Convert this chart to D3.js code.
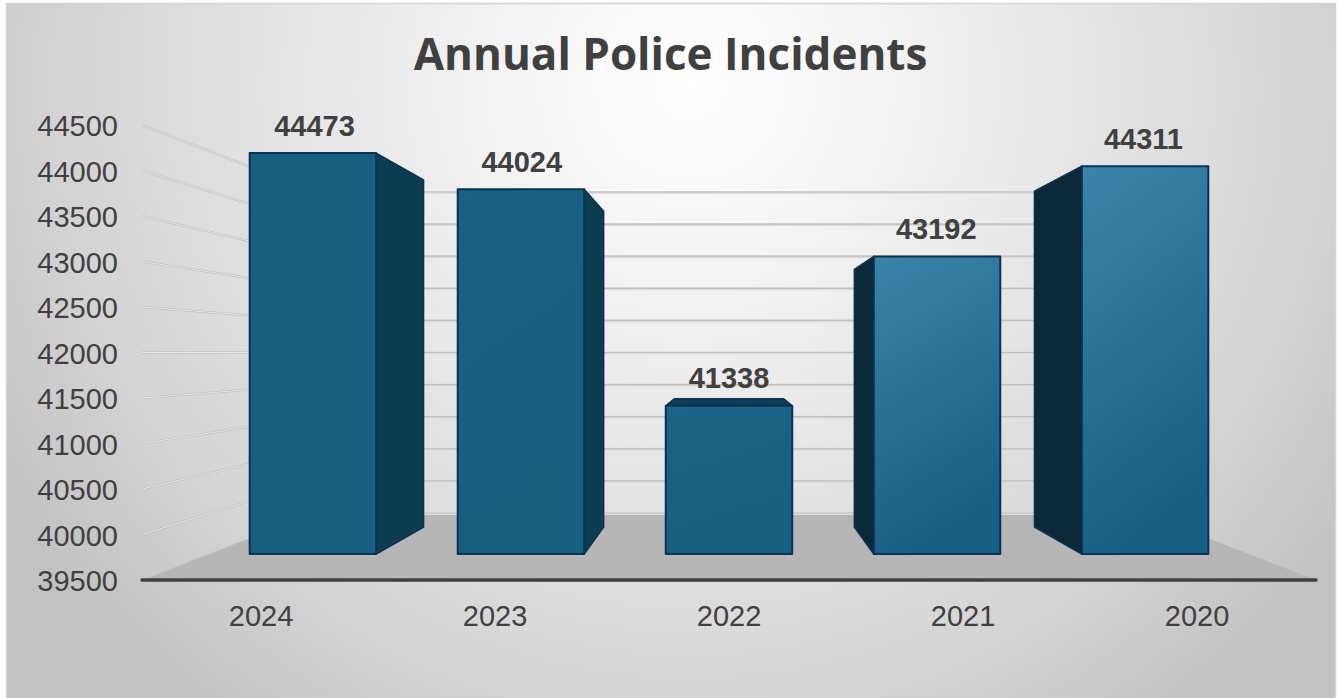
<!DOCTYPE html>
<html><head><meta charset="utf-8">
<script src="https://cdn.jsdelivr.net/npm/d3@7"></script>
<style>html,body{margin:0;padding:0;background:#fff}svg{display:block}</style>
</head><body><svg id="c" width="1341" height="698"></svg>
<script>
const years = ["2024","2023","2022","2021","2020"];
const incidents = [44473,44024,41338,43192,44311];
const yTicks = [39500,40000,40500,41000,41500,42000,42500,43000,43500,44000,44500];
const titleText = "Annual Police Incidents";

const svg = d3.select("#c");
const vp = {x:729,y:352.5};
const S = {barFront:.886,barBack:.767,wall:.7055,label:.8825};
const x = d3.scaleBand().domain(years).range([142,1316]).paddingInner(.392).paddingOuter(.196);
const xLabels = d3.scaleBand().domain(years).range([144,1314]);
const y = d3.scaleLinear().domain([39500,44500]).range([580,125]);
const proj = (px,py,s)=>[vp.x+(px-vp.x)*s, vp.y+(py-vp.y)*s];
const poly = pts=>"M"+pts.map(p=>p.join(",")).join("L")+"Z";

const defs = svg.append("defs");
const bg = defs.append("radialGradient").attr("id","bg").attr("gradientUnits","userSpaceOnUse")
  .attr("cx",690).attr("cy",85).attr("r",800);
[[0,"#ffffff"],[.15,"#f8f8f8"],[.45,"#e8e8e8"],[.8,"#d3d3d3"],[1,"#c2c2c2"]].forEach(d=>bg.append("stop").attr("offset",d[0]).attr("stop-color",d[1]));
const frontStops = [
 ["#155f81","#155f81"],["#176285","#155f81"],["#1a6486","#155f81"],
 ["#3a83a8","#165f82"],["#3b84a9","#155f82"]];
frontStops.forEach((c,i)=>{
  const g = defs.append("linearGradient").attr("id","f"+i).attr("x1",.1).attr("y1",0).attr("x2",.35).attr("y2",1);
  g.append("stop").attr("offset",0).attr("stop-color",c[0]);
  g.append("stop").attr("offset",1).attr("stop-color",c[1]);
});

svg.append("rect").attr("x",6.5).attr("y",3.5).attr("width",1329).attr("height",700)
  .attr("fill","url(#bg)").attr("stroke","#d4d4d4").attr("stroke-width",1.5);

// floor
const [x0,x1] = x.range(), y0 = y.range()[0];
svg.append("path").attr("d",poly([[x0,y0],[x1,y0],proj(x1,y0,S.wall),proj(x0,y0,S.wall)])).attr("fill","#b6b6b6");

// side wall + back wall grid lines
const grid = svg.append("g");
yTicks.forEach(t=>{
  const a=[x0,y(t)], b=proj(x0,y(t),S.wall), c=proj(x1,y(t),S.wall);
  const base = t===39500;
  grid.append("path").attr("d",`M${a}L${b}`).attr("fill","none").attr("stroke",base?"#c4c4c4":"#bcbcbc").attr("stroke-width",base?1:2.2);
  if(!base) grid.append("path").attr("d",`M${a}L${b}`).attr("fill","none").attr("stroke","#ececec").attr("stroke-width",.9);
  grid.append("path").attr("d",`M${b}L${c}`).attr("fill","none").attr("stroke","#dcdcdc").attr("stroke-width",3).attr("transform","translate(0,.5)");
  grid.append("path").attr("d",`M${b}L${c}`).attr("fill","none").attr("stroke","#bfbfbf").attr("stroke-width",1.2);
});

// bars
const bars = svg.append("g");
years.forEach((yr,i)=>{
  const l=x(yr), r=l+x.bandwidth(), t=y(incidents[i]);
  const F=s=>[proj(l,t,s),proj(r,t,s),proj(r,y0,s),proj(l,y0,s)];
  const f=F(S.barFront), k=F(S.barBack);
  const g=bars.append("g").attr("stroke","#0f3052").attr("stroke-width",1.5).attr("stroke-linejoin","round");
  if(f[0][1]>vp.y) g.append("path").attr("d",poly([f[0],f[1],k[1],k[0]])).attr("fill","#0e3c54");
  if(f[1][0]<vp.x) g.append("path").attr("d",poly([f[1],k[1],k[2],f[2]])).attr("fill","#0b3c50");
  if(f[0][0]>vp.x) g.append("path").attr("d",poly([f[0],k[0],k[3],f[3]])).attr("fill","#0a2838");
  g.append("path").attr("d",poly(f)).attr("fill",`url(#f${i})`).attr("stroke-width",2);
  svg.append("text").attr("x",proj(l+x.bandwidth()/2,t,S.label)[0]).attr("y",f[0][1]-17.5).attr("text-anchor","middle")
    .attr("font-family","Liberation Sans").attr("font-weight",700).attr("font-size",29).attr("fill","#404040").text(incidents[i]);
});

// axes
const yAxis = svg.append("g").attr("transform",`translate(${x0},0)`)
  .call(d3.axisLeft(y).tickValues(yTicks).tickFormat(d3.format("d")).tickSize(0).tickPadding(24));
yAxis.select(".domain").remove();
yAxis.selectAll("text").attr("dy","0.37em");
const xAxis = svg.append("g").attr("transform",`translate(0,${y0})`)
  .call(d3.axisBottom(xLabels).tickSize(0).tickPadding(25));
xAxis.select(".domain").attr("stroke","#404040").attr("stroke-width",3.5).attr("stroke-linecap","round");
xAxis.selectAll("text").attr("dy","0.71em");
xAxis.select(".domain").attr("d",`M${x0},0H${x1}`);
svg.selectAll(".tick text").attr("font-family","Liberation Sans").attr("font-size",29).attr("fill","#404040");

svg.append("text").attr("x",670.5).attr("y",70).attr("text-anchor","middle")
  .attr("font-family","Open Sans").attr("font-weight",700).attr("font-size",44).attr("fill","#404040").text(titleText);
</script></body></html>
